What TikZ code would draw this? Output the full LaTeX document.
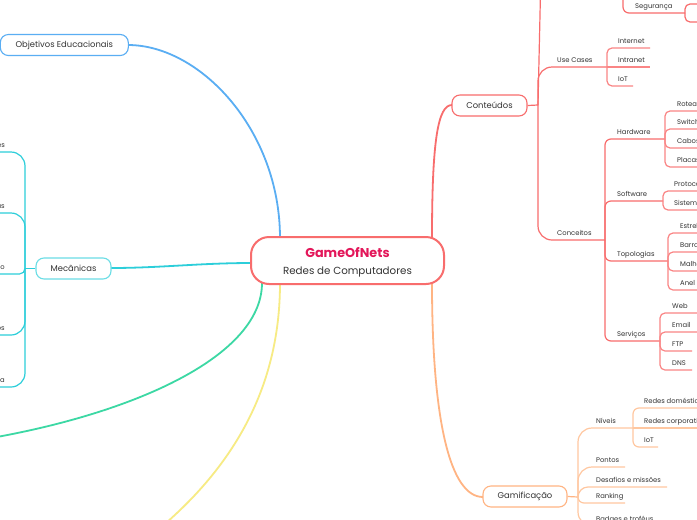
\documentclass[tikz,border=0pt]{standalone}
\usepackage{fontspec}
\setmainfont{Poppins}
\definecolor{redl}{HTML}{F86D6D}
\definecolor{redk}{HTML}{FA8585}
\definecolor{crim}{HTML}{E3175A}
\definecolor{bluel}{HTML}{5AAEF3}
\definecolor{cyanl}{HTML}{2CCEDA}
\definecolor{tealk}{HTML}{3CD8A4}
\definecolor{yell}{HTML}{F7EB84}
\definecolor{orl}{HTML}{FFB483}
\definecolor{ork}{HTML}{FFC7A0}
\definecolor{txt}{HTML}{333333}
\newcommand\kids[6]{% color, jx, jy, radius, label x, list y/xend/name/text
  \foreach \yy/\ee/\nm/\lab in {#6}{%
    \pgfmathsetmacro\rr{min(#4,abs(\yy-#3))}%
    \ifdim\rr pt<0.5pt
      \draw[kid,#1] (#2,\yy) -- (\ee,\yy);
    \else
      \draw[kid,#1,rounded corners=\rr pt] (#2,#3) -- (#2,\yy) -- (\ee,\yy);
    \fi
    \node[lbl,anchor=base west] (\nm) at (#5,\yy-4.5) {\lab};
  }}
\begin{document}
\begin{tikzpicture}[x=1pt,y=-1pt,
  lbl/.style={font=\fontsize{6.8}{7.5}\selectfont,text=txt,inner sep=0pt},
  kid/.style={line width=1.2pt},
  main/.style={line width=1.8pt},
  pill/.style={draw,rounded corners=8pt,line width=1.1pt,fill=white,
     font=\fontsize{8.4}{9}\selectfont,text=txt,inner sep=0pt}]
\useasboundingbox (0,0) rectangle (697,520);
\fill[white] (0,0) rectangle (697,520);
\clip (0,0) rectangle (697,520);

% ---------- main connectors ----------
\coordinate (tealend) at (-40,443);
\coordinate (yelend) at (135,548);
\draw[main,bluel] (280,238) .. controls (280,130) and (200,45) .. (128,45);
\draw[main,cyanl] (252,263) .. controls (200,263) and (160,268) .. (111,268);
\draw[main,tealk] (262,283) .. controls (262,360) and (120,420) .. (tealend);
\draw[main,yell] (280,283) .. controls (280,380) and (240,470) .. (yelend);
\draw[main,redl] (432,238) .. controls (432,140) and (438,105) .. (452,105);
\draw[main,orl] (432,283) .. controls (432,420) and (450,497) .. (483,497);

% ---------- central node ----------
\node[draw=redl,line width=2pt,rounded corners=18pt,fill=white,
      minimum width=193pt,minimum height=47pt,inner sep=0pt] (root) at (347.5,260.5) {};
\node[font=\fontsize{12.8}{13}\selectfont\bfseries,text=crim,inner sep=0pt] (t1) at (347.5,253) {GameOfNets};
\node[font=\fontsize{10.3}{11}\selectfont,text=txt,inner sep=0pt] (t2) at (347.5,272) {Redes de Computadores};

% ---------- main topic nodes ----------
\node[pill,draw=bluel,minimum width=128pt,minimum height=21pt] (obj) at (64.3,45) {Objetivos Educacionais};
\node[pill,draw=cyanl!70,minimum width=75pt,minimum height=21pt] (mec) at (73.5,268.5) {Mecânicas};
\node[pill,draw=redl,minimum width=75pt,minimum height=21pt] (cont) at (489.5,105.5) {Conteúdos};
\node[pill,draw=orl,minimum width=84pt,minimum height=21pt] (gam) at (525,496.5) {Gamificação};

% ---------- Mecanicas children ----------
\draw[kid,cyanl] (mec.west) -- (25,268.5);
\foreach \yy/\nm/\lab in {152/m1/Quizzes,213/m2/Simulações práticas,274/m3/Modo de jogo,335/m4/Minijogos,387/m5/Jornada}{
  \pgfmathsetmacro\rr{min(14,abs(\yy-268.5))}
  \draw[kid,cyanl,rounded corners=\rr pt] (25,268.5) -- (25,\yy) -- (-80,\yy);
  \node[lbl,anchor=base east] (\nm) at (5,\yy-4.5) {\lab};
}

% ---------- Conteudos ----------
\draw[kid,redl] (cont.east) -- (538,105);
% branch above the picture
\draw[kid,redl,rounded corners=14pt] (538,105) -- (541,-30) -- (623,-30);
\draw[kid,redl,rounded corners=6pt] (623,-30) -- (623,13) -- (685,13);
\node[lbl,anchor=base west] (seg) at (635,8.5) {Segurança};
\draw[kid,redl,rounded corners=5pt] (685,13) -- (685,4) -- (720,4);
\draw[kid,redl,rounded corners=5pt] (685,13) -- (685,22) -- (720,22);
% Use Cases
\draw[kid,redl,rounded corners=14pt] (538,105) -- (538,67) -- (607,67);
\node[lbl,anchor=base west] (uc) at (557,62.5) {Use Cases};
\kids{redk}{607}{67}{5}{618}{48/650/i1/Internet,67/650/i2/Intranet,86/633/i3/IoT}
% Conceitos
\draw[kid,redl,rounded corners=14pt] (538,105) -- (538,240) -- (605,240);
\node[lbl,anchor=base west] (conc) at (557,235.5) {Conceitos};
\kids{redl}{605}{240}{6}{617}{139/665/hw/Hardware,201/663/sw/Software,261/668/top/Topologias,341/660/serv/Serviços}
\kids{redk}{665}{139}{5}{677}{111/720/h1/Roteadores,129/720/h2/Switches,148/720/h3/Cabos,167/720/h4/Placas}
\kids{redk}{663}{201}{5}{674}{191/720/s1/Protocolos,210/720/s2/Sistemas}
\kids{redk}{668}{261}{5}{680}{233/720/p1/Estrela,252/720/p2/Barramento,271/720/p3/Malha,290/720/p4/Anel}
\kids{redk}{660}{341}{5}{672}{313/697/v1/Web,332/697/v2/Email,351/692/v3/FTP,370/692/v4/DNS}

% ---------- Gamificacao ----------
\draw[kid,orl] (gam.east) -- (578,497);
\kids{ork}{578}{497}{14}{596}{428/633/g1/Níveis,467/625/g2/Pontos,487/667/g3/Desafios e missões,503/625/g4/Ranking,526/680/g5/Badges e troféus}
\kids{ork}{633}{428}{6}{644}{408/720/n1/Redes domésticas,428/720/n2/Redes corporativas,447/658/n3/IoT}
\end{tikzpicture}
\end{document}
